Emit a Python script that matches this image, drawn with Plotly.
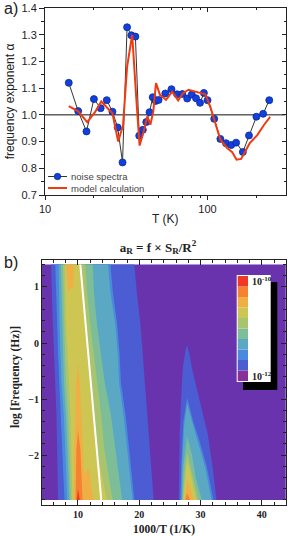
import plotly.graph_objects as go

W, H = 291, 536
SANS = "Liberation Sans, Arial, sans-serif"
SERIF = "Liberation Serif, Times New Roman, serif"

# ---------- panel a data ----------
noise_T = [14, 16, 18, 20, 22, 24, 26, 28, 30, 32, 34, 36, 38, 40, 42, 44, 46, 48, 50, 55, 60, 65, 70, 75, 80, 85,
           90, 95, 100, 110, 120, 130, 140, 150, 165, 180, 200, 220, 240]
noise_alpha = [1.12, 1.014, .938, 1.059, 1.025, 1.055, 1.012, .953, .822, 1.328, 1.298, 1.293, .922, .944, .973,
               1.01, 1.066, 1.052, 1.056, 1.08, 1.096, 1.077, 1.078, 1.061, 1.076, 1.062, 1.045, 1.082, 1.055,
               .985, .91, .894, .887, .896, .861, .923, .993, 1.004, 1.055]
model_T = [14, 16, 18.2, 20.3, 22.2, 24, 26, 28.2, 30.2, 32, 34.4, 36.4, 38.2, 40.5, 42.6, 44.5, 46.4, 48.2, 51,
           55.6, 60.6, 66, 70.6, 76.5, 86, 97, 104, 112, 120, 132, 142, 151, 161, 182, 203, 223, 243]
model_alpha = [1.033, 1.013, .973, 1.01, 1.05, 1.03, 1.006, .90, .96, 1.18, 1.30, 1.068, .885, .938, .994, .963,
               1.013, 1.119, 1.075, 1.056, 1.087, 1.054, 1.081, 1.094, 1.087, 1.077, 1.031, .969, .907, .876,
               .86, .832, .835, .894, .925, .963, .992]
a_y_ticks = [0.7, 0.8, 0.9, 1.0, 1.1, 1.2, 1.3, 1.4]
a_y_labels = ["0.7", "0.8", "0.9", "1.0", "1.1", "1.2", "1.3", "1.4"]
a_x_ticks = [10, 100]
a_x_minor = [20, 30, 40, 50, 60, 70, 80, 90, 200]
legend_names = ["noise spectra", "model calculation"]

# ---------- panel b data: contour levels ----------
band_freq = [1.4, 0.9, 0.33, -0.2, -0.7, -1.3, -1.9, -2.3, -2.8]
l1_left = [5.6, 5.7, 5.9, 6.1, 6.3, 6.5, 6.6, 6.7, 6.75]
l1_right = [19.2, 19.6, 20.2, 20.6, 21, 21.4, 21.8, 22.0, 22.35]
l2_left = [6.3, 6.4, 6.6, 6.75, 6.95, 7.2, 7.5, 7.6, 7.8]
l2_right = [15.3, 15.7, 16.4, 16.8, 17.0, 17.8, 18.3, 18.7, 19.2]
l3_left = [6.85, 6.9, 7.0, 7.15, 7.3, 7.7, 7.95, 8.05, 8.25]
l3_right = [14.9, 15.3, 16.1, 16.5, 16.7, 17.45, 18, 18.4, 18.9]
l4_left = [7.2, 7.3, 7.4, 7.55, 7.7, 8.05, 8.3, 8.45, 8.6]
l4_right = [12.4, 12.6, 13.1, 13.7, 14.35, 15.4, 16.1, 16.6, 17.2]
l5_left = [7.55, 7.6, 7.75, 7.9, 8.05, 8.4, 8.6, 8.7, 8.85]
l5_right = [11.2, 11.5, 12, 12.5, 13.1, 13.8, 14.3, 14.9, 15.65]
l6_left = [7.85, 7.95, 8.05, 8.3, 8.5, 8.8, 8.9, 9.0, 9.1]
l6_right = [10.6, 11, 11.3, 11.7, 12.1, 12.55, 13.1, 13.8, 14.7]

l7_top_x = [8.0, 9.3, 9.25, 8.4, 8.2]
l7_top_f = [1.4, 1.4, 1.0, 0.93, 1.2]
l7_x = [10, 10.3, 10.55, 10.75, 11.0, 11.55, 11.85, 12.2, 12.55, 9.3, 9.4, 9.6, 9.7]
l7_f = [-0.36, -0.7, -1.3, -1.9, -2.35, -2.25, -2.28, -2.6, -2.8, -2.8, -1.9, -1.3, -0.7]
l8_x = [10, 10.4, 10.55, 10.75, 9.6, 9.65, 9.75]
l8_f = [-1.55, -1.9, -2.3, -2.8, -2.8, -2.3, -1.9]
l9_x = [10, 10.3, 9.8]
l9_f = [-2.6, -2.8, -2.8]

p1_x = [26.45, 26.6, 26.8, 27.1, 27.5, 27.8, 28.2, 28.6, 29.9, 31.2, 32.0, 32.6]
p1_f = [-2.8, -1.64, -1.05, -0.45, -0.15, -0.04, -0.2, -0.45, -1.05, -1.64, -2.24, -2.8]
p2_x = [26.7, 26.85, 27.2, 27.8, 28.8, 29.7, 31.0, 32.1]
p2_f = [-2.8, -2.2, -1.4, -0.97, -1.4, -1.7, -2.2, -2.8]
p3_x = [26.9, 27.0, 27.3, 27.8, 28.6, 29.4, 30.7, 31.8]
p3_f = [-2.8, -2.2, -1.5, -1.08, -1.4, -1.7, -2.2, -2.8]
p4_x = [27.0, 27.2, 27.8, 28.6, 29.2, 30.2]
p4_f = [-2.8, -2.2, -1.67, -2.0, -2.4, -2.8]
p5_x = [27.1, 27.4, 27.8, 28.5, 29.6]
p5_f = [-2.8, -2.3, -1.95, -2.3, -2.8]
p6_x = [27.2, 27.8, 28.5, 29.3]
p6_f = [-2.8, -2.09, -2.4, -2.8]
p7_x = [27.4, 27.8, 28.9]
p7_f = [-2.8, -2.42, -2.8]
p8_x = [27.5, 27.8, 28.3]
p8_f = [-2.8, -2.68, -2.8]

map_x_min, map_x_max = 4.13, 43.9
map_f_min, map_f_max = -2.8, 1.4
ridge_x = [10.38, 13.8]
ridge_f = [1.4, -2.8]

b_x_ticks = [10, 20, 30, 40]
b_y_ticks = [1, 0, -1, -2]
b_y_labels = ["1", "0", "\u22121", "\u22122"]

bg_purple = "#6A33AE"
level_colors = ["#8A2E9A", "#4C5CD2", "#4A8ADC", "#5BA8C4", "#7DBE98", "#A9C46E", "#CDC653", "#F0AF45", "#F58233",
                "#EE3A24"]
noise_color = "#1140E0"
model_color = "#F03A10"


def px_x(p):
    return p / W


def px_y(p):
    return 1 - p / H


fig = go.Figure()


def poly(xs, fs, color):
    fig.add_trace(go.Scatter(x=xs, y=fs, xaxis="x2", yaxis="y2", mode="lines", fill="toself", fillcolor=color,
                             line=dict(width=0, color=color), hoverinfo="skip", showlegend=False))


def band(left, right, color):
    poly(left + right[::-1], band_freq + band_freq[::-1], color)


# panel b
poly([map_x_min, map_x_max, map_x_max, map_x_min], [map_f_min, map_f_min, map_f_max, map_f_max], bg_purple)
band(l1_left, l1_right, level_colors[1])
poly(p1_x, p1_f, level_colors[1])
band(l2_left, l2_right, level_colors[2])
poly(p2_x, p2_f, level_colors[2])
band(l3_left, l3_right, level_colors[3])
poly(p3_x, p3_f, level_colors[3])
band(l4_left, l4_right, level_colors[4])
poly(p4_x, p4_f, level_colors[4])
band(l5_left, l5_right, level_colors[5])
poly(p5_x, p5_f, level_colors[5])
band(l6_left, l6_right, level_colors[6])
poly(p6_x, p6_f, level_colors[6])
poly(l7_top_x, l7_top_f, level_colors[7])
poly(l7_x, l7_f, level_colors[7])
poly(p7_x, p7_f, level_colors[7])
poly(l8_x, l8_f, level_colors[8])
poly(p8_x, p8_f, level_colors[8])
poly(l9_x, l9_f, level_colors[9])
fig.add_trace(go.Scatter(x=ridge_x, y=ridge_f, xaxis="x2", yaxis="y2", mode="lines",
                         line=dict(color="white", width=2), hoverinfo="skip", showlegend=False))

# panel a
fig.add_trace(go.Scatter(x=[10, 302], y=[1.0, 1.0], mode="lines", line=dict(color="#111111", width=1),
                         hoverinfo="skip", showlegend=False))
fig.add_trace(go.Scatter(x=noise_T, y=noise_alpha, mode="lines+markers", name=legend_names[0],
                         line=dict(color="#333333", width=1), showlegend=False,
                         marker=dict(color=noise_color, size=7, line=dict(color="#0B2A90", width=0.8))))
fig.add_trace(go.Scatter(x=model_T, y=model_alpha, mode="lines", name=legend_names[1], showlegend=False,
                         line=dict(color=model_color, width=2)))
fig.add_trace(go.Scatter(x=[20], y=[1.0], xaxis="x3", yaxis="y3", mode="markers", marker=dict(opacity=0),
                         hoverinfo="skip", showlegend=False))

a_dom_x = [px_x(45), px_x(285.5)]
a_dom_y = [px_y(195), px_y(8)]
b_dom_x = [px_x(42), px_x(286)]
b_dom_y = [px_y(505), px_y(259.5)]
a_x_range = [1, 2.48]
a_y_range = [0.7, 1.4]

ink = "#222222"
shapes = [
    dict(type="rect", xref="paper", yref="paper", x0=px_x(243), x1=px_x(277.3), y0=px_y(390), y1=px_y(282),
         fillcolor="black", line=dict(width=0)),
    dict(type="rect", xref="paper", yref="paper", x0=px_x(236.7), x1=px_x(270.7), y0=px_y(382), y1=px_y(275),
         fillcolor="white", line=dict(width=0)),
    # hand-built legend keys
    dict(type="line", xref="paper", yref="paper", x0=px_x(48), x1=px_x(67), y0=px_y(176.5), y1=px_y(176.5),
         line=dict(color="#333333", width=1)),
    dict(type="circle", xref="paper", yref="paper", x0=px_x(54.3), x1=px_x(60.7), y0=px_y(179.7), y1=px_y(173.3),
         fillcolor=noise_color, line=dict(color="#0B2A90", width=0.8)),
    dict(type="line", xref="paper", yref="paper", x0=px_x(48), x1=px_x(67), y0=px_y(188), y1=px_y(188),
         line=dict(color=model_color, width=2)),
]
for i, c in enumerate(level_colors):
    top = 381 - (i + 1) * 10.5
    shapes.append(dict(type="rect", xref="paper", yref="paper", x0=px_x(237.7), x1=px_x(248), y0=px_y(top + 10.5),
                       y1=px_y(top), fillcolor=c, line=dict(width=0)))

annotations = [
    dict(text="a)", xref="paper", yref="paper", x=px_x(2), y=px_y(9), xanchor="left", yanchor="middle",
         showarrow=False, font=dict(family=SANS, size=16, color="#222")),
    dict(text="b)", xref="paper", yref="paper", x=px_x(2), y=px_y(262), xanchor="left", yanchor="middle",
         showarrow=False, font=dict(family=SANS, size=16, color="#222")),
    dict(text="<b>10<sup>-10</sup></b>", xref="paper", yref="paper", x=px_x(250), y=px_y(281), xanchor="left",
         yanchor="middle", showarrow=False, font=dict(family=SERIF, size=10, color="#222")),
    dict(text="<b>10<sup>-12</sup></b>", xref="paper", yref="paper", x=px_x(250), y=px_y(376), xanchor="left",
         yanchor="middle", showarrow=False, font=dict(family=SERIF, size=10, color="#222")),
    dict(text=legend_names[0], xref="paper", yref="paper", x=px_x(69), y=px_y(176.5), xanchor="left",
         yanchor="middle", showarrow=False, font=dict(family=SANS, size=9.5, color="#444")),
    dict(text=legend_names[1], xref="paper", yref="paper", x=px_x(69), y=px_y(188), xanchor="left",
         yanchor="middle", showarrow=False, font=dict(family=SANS, size=9.5, color="#444")),
    dict(text="<b>log [Frequency (Hz)]</b>", xref="paper", yref="paper", x=px_x(15), y=px_y(377), xanchor="center",
         yanchor="middle", textangle=-90, showarrow=False, font=dict(family=SERIF, size=11.5, color="#222")),
]

fig.update_layout(
    width=W, height=H, autosize=False, margin=dict(l=0, r=0, t=0, b=0, pad=0), paper_bgcolor="white",
    plot_bgcolor="white", showlegend=False,
    title=dict(text="<b>a<sub>R</sub> = f \u00d7 S<sub>R</sub>/R<sup>2</sup></b>", x=158 / W, y=px_y(247),
               xanchor="center", yanchor="middle", font=dict(family=SERIF, size=13, color="#222")),
    shapes=shapes, annotations=annotations,
    xaxis=dict(type="log", domain=a_dom_x, range=a_x_range, anchor="y", showgrid=False, zeroline=False,
               automargin=False, showline=True, linecolor=ink, linewidth=1, ticks="outside", ticklen=4, tickcolor=ink,
               tickvals=a_x_ticks, ticktext=["10", "100"], tickfont=dict(family=SANS, size=11, color="#222"),
               minor=dict(tickvals=a_x_minor, ticks="outside", ticklen=2, tickcolor=ink),
               title=dict(text="T (K)", font=dict(family=SANS, size=12, color="#222"), standoff=0)),
    yaxis=dict(domain=a_dom_y, range=a_y_range, anchor="x", showgrid=False, zeroline=False, showline=True,
               automargin=False, linecolor=ink, linewidth=1, ticks="outside", ticklen=5, tickcolor=ink,
               tickvals=a_y_ticks, ticktext=a_y_labels, tickfont=dict(family=SANS, size=11, color="#222"),
               minor=dict(dtick=0.05, ticks="outside", ticklen=3, tickcolor=ink),
               title=dict(text="frequency exponent \u03b1", font=dict(family=SANS, size=12, color="#222"),
                          standoff=4)),
    xaxis3=dict(type="log", domain=a_dom_x, range=a_x_range, anchor="y3", side="top", overlaying="x",
                automargin=False, showgrid=False, zeroline=False, showline=True, linecolor=ink, linewidth=1,
                ticks="inside", ticklen=4, tickcolor=ink, tickvals=a_x_ticks, showticklabels=False,
                minor=dict(tickvals=a_x_minor, ticks="inside", ticklen=2, tickcolor=ink)),
    yaxis3=dict(domain=a_dom_y, range=a_y_range, anchor="x3", side="right", overlaying="y", showgrid=False,
                automargin=False, zeroline=False, showline=True, linecolor=ink, linewidth=1, ticks="inside",
                ticklen=4, tickcolor=ink, tickvals=a_y_ticks, showticklabels=False,
                minor=dict(dtick=0.05, ticks="inside", ticklen=2, tickcolor=ink)),
    xaxis2=dict(domain=b_dom_x, range=[4.13, 43.94], anchor="y2", showgrid=False, zeroline=False, showline=True,
                automargin=False, mirror="ticks", linecolor=ink, linewidth=1, ticks="inside", ticklen=5,
                tickcolor=ink, tickvals=b_x_ticks,
                tickfont=dict(family=SERIF, size=10, color="#222", weight="bold"),
                minor=dict(dtick=2, ticks="inside", ticklen=3, tickcolor=ink),
                title=dict(text="<b>1000/T (1/K)</b>", font=dict(family=SERIF, size=11.5, color="#222"), standoff=9)),
    yaxis2=dict(domain=b_dom_y, range=[-2.89, 1.49], anchor="x2", showgrid=False, zeroline=False, showline=True,
                automargin=False, mirror="ticks", linecolor=ink, linewidth=1, ticks="inside", ticklen=5,
                tickcolor=ink, tickvals=b_y_ticks, ticktext=b_y_labels,
                tickfont=dict(family=SERIF, size=10, color="#222", weight="bold"),
                minor=dict(dtick=0.2, ticks="inside", ticklen=3, tickcolor=ink)),
)

fig.write_html("out.html", config=dict(displayModeBar=False),
               post_script="document.body.style.margin='0';document.documentElement.style.overflow='hidden';")
